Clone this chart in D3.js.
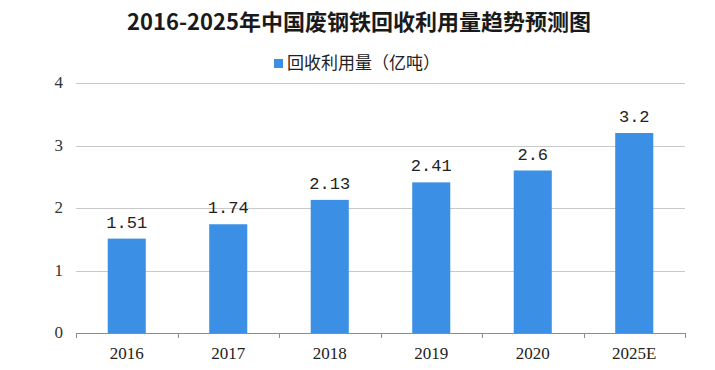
<!DOCTYPE html>
<html>
<head>
<meta charset="utf-8">
<script src="https://cdn.jsdelivr.net/npm/d3@7"></script>
<style>
  body { margin: 0; background: #fff; }
  svg { display: block; }
</style>
</head>
<body>
<div id="chart"></div>
<script>
var years = ['2016', '2017', '2018', '2019', '2020', '2025E'];
var values = [1.51, 1.74, 2.13, 2.41, 2.6, 3.2];
var valueLabels = ['1.51', '1.74', '2.13', '2.41', '2.6', '3.2'];
var yTicks = [0, 1, 2, 3, 4];
var title = '2016-2025年中国废钢铁回收利用量趋势预测图';
var seriesName = '回收利用量（亿吨）';

var w = 715, h = 370;
var margin = { top: 83, right: 30, bottom: 37, left: 76 };
var barColor = '#3b90e5';

var svg = d3.select('#chart').append('svg')
    .attr('width', w)
    .attr('height', h);

svg.append('rect').attr('width', w).attr('height', h).attr('fill', '#fff');

var x = d3.scaleBand()
    .domain(years)
    .range([margin.left, w - margin.right])
    .paddingInner(0.625)
    .paddingOuter(0.3125);

var y = d3.scaleLinear()
    .domain([0, 4])
    .range([h - margin.bottom, margin.top]);

// gridlines
svg.append('g')
    .selectAll('line')
    .data(yTicks.filter(function (d) { return d > 0; }))
    .enter().append('line')
    .attr('x1', margin.left)
    .attr('x2', w - margin.right)
    .attr('y1', function (d) { return Math.round(y(d)) + 0.5; })
    .attr('y2', function (d) { return Math.round(y(d)) + 0.5; })
    .attr('stroke', '#c9c9c9')
    .attr('stroke-width', 1);

// y labels
svg.append('g')
    .selectAll('text')
    .data(yTicks)
    .enter().append('text')
    .attr('x', 63)
    .attr('y', function (d) { return y(d) + 5; })
    .attr('text-anchor', 'end')
    .attr('font-family', 'Liberation Serif, serif')
    .attr('font-size', 17)
    .attr('fill', '#333')
    .text(function (d) { return d; });

// bars
svg.append('g')
    .selectAll('rect')
    .data(values)
    .enter().append('rect')
    .attr('x', function (d, i) { return x(years[i]); })
    .attr('y', function (d) { return y(d); })
    .attr('width', x.bandwidth())
    .attr('height', function (d) { return y(0) - y(d); })
    .attr('fill', barColor);

// value labels
svg.append('g')
    .selectAll('text')
    .data(values)
    .enter().append('text')
    .attr('x', function (d, i) { return x(years[i]) + x.bandwidth() / 2; })
    .attr('y', function (d) { return y(d) - 11; })
    .attr('text-anchor', 'middle')
    .attr('font-family', 'Liberation Mono, monospace')
    .attr('font-size', 17)
    .attr('fill', '#222')
    .text(function (d, i) { return valueLabels[i]; });

// x axis
var x0 = margin.left, x1 = w - margin.right;
var axis = svg.append('g').attr('stroke', '#8c8c8c');
axis.append('line')
    .attr('x1', x0).attr('x2', x1)
    .attr('y1', Math.round(y(0)) + 0.5).attr('y2', Math.round(y(0)) + 0.5);
d3.range(years.length + 1).forEach(function (i) {
    var tx = Math.round(x0 + i * (x1 - x0) / years.length) + 0.5;
    axis.append('line')
        .attr('x1', tx).attr('x2', tx)
        .attr('y1', y(0)).attr('y2', y(0) + 5);
});

svg.append('g')
    .selectAll('text')
    .data(years)
    .enter().append('text')
    .attr('x', function (d) { return x(d) + x.bandwidth() / 2; })
    .attr('y', h - 11)
    .attr('text-anchor', 'middle')
    .attr('font-family', 'Liberation Serif, serif')
    .attr('font-size', 17)
    .attr('fill', '#222')
    .text(function (d) { return d; });

// title
svg.append('text')
    .attr('x', 359)
    .attr('y', 30)
    .attr('text-anchor', 'middle')
    .attr('font-family', 'Noto Sans CJK SC, sans-serif')
    .attr('font-weight', 'bold')
    .attr('font-size', 22)
    .attr('fill', '#1a1a1a')
    .text(title);

// legend
svg.append('rect')
    .attr('x', 274).attr('y', 59)
    .attr('width', 9).attr('height', 9)
    .attr('fill', barColor);
svg.append('text')
    .attr('x', 287)
    .attr('y', 69)
    .attr('font-family', 'Noto Sans CJK SC, sans-serif')
    .attr('font-size', 17)
    .attr('fill', '#222')
    .text(seriesName);
</script>
</body>
</html>
